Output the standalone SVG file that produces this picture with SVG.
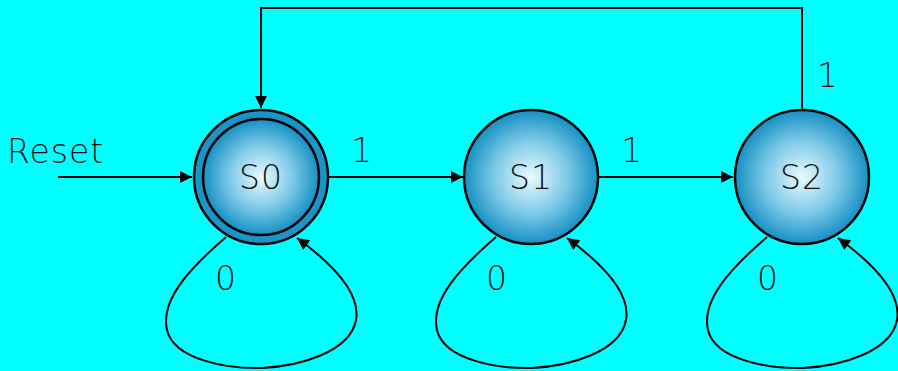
<svg xmlns="http://www.w3.org/2000/svg" width="898" height="371" viewBox="0 0 898 371">
  <defs>
    <radialGradient id="ball" cx="50%" cy="50%" r="50%">
      <stop offset="0" stop-color="#eafaff"/>
      <stop offset="0.55" stop-color="#7cc9e6"/>
      <stop offset="1" stop-color="#1590c4"/>
    </radialGradient>
    <marker id="arrow" viewBox="0 0 10 10" refX="10" refY="5" markerWidth="16" markerHeight="12" markerUnits="userSpaceOnUse" orient="auto">
      <path d="M0,0 L10,5 L0,10 z" fill="#000"/>
    </marker>
    <style>
      .edge { fill: none; stroke: #000; stroke-width: 2; }
      .state { fill: url(#ball); stroke: #000; stroke-width: 2.5; }
      .txt { font-family: "DejaVu Sans", "Liberation Sans", sans-serif; font-weight: 200; font-size: 33px; letter-spacing: 1px; fill: #111; }
      .mid { text-anchor: middle; }
    </style>
  </defs>
  <rect width="898" height="371" fill="#00ffff"/>

  <g id="connectors">
    <path class="edge" d="M58,177 H192" marker-end="url(#arrow)"/>
    <path class="edge" d="M329,177 H463" marker-end="url(#arrow)"/>
    <path class="edge" d="M599,177 H733" marker-end="url(#arrow)"/>
    <path class="edge" d="M802,110 V8 H261 V108" marker-end="url(#arrow)"/>
    <path class="edge" d="M226,237 C190,268 160,300 167,330 C174,360 228,369 262,368 C300,366 350,352 356,320 C361,292 330,262 297,238" marker-end="url(#arrow)"/>
    <path class="edge" d="M496,237 C460,268 430,300 437,330 C444,360 498,369 532,368 C570,366 620,352 626,320 C631,292 600,262 567,238" marker-end="url(#arrow)"/>
    <path class="edge" d="M767,237 C731,268 701,300 708,330 C715,360 769,369 803,368 C841,366 891,352 897,320 C902,292 871,262 838,238" marker-end="url(#arrow)"/>
    <text class="txt mid" x="362" y="162">1</text>
    <text class="txt mid" x="632" y="162">1</text>
    <text class="txt mid" x="828" y="87">1</text>
    <text class="txt mid" x="226" y="290">0</text>
    <text class="txt mid" x="497" y="290">0</text>
    <text class="txt mid" x="768" y="290">0</text>
  </g>

  <g id="reset">
    <text class="txt" x="7" y="163">Reset</text>
  </g>

  <g id="S0">
    <circle cx="261" cy="177" r="67" fill="#1a95c8" stroke="#000" stroke-width="2.5"/>
    <circle class="state" cx="261" cy="177" r="58"/>
    <text class="txt mid" x="261" y="189">S0</text>
  </g>
  <g id="S1">
    <circle class="state" cx="531" cy="177" r="67"/>
    <text class="txt mid" x="531" y="189">S1</text>
  </g>
  <g id="S2">
    <circle class="state" cx="802" cy="177" r="67"/>
    <text class="txt mid" x="802" y="189">S2</text>
  </g>
</svg>
